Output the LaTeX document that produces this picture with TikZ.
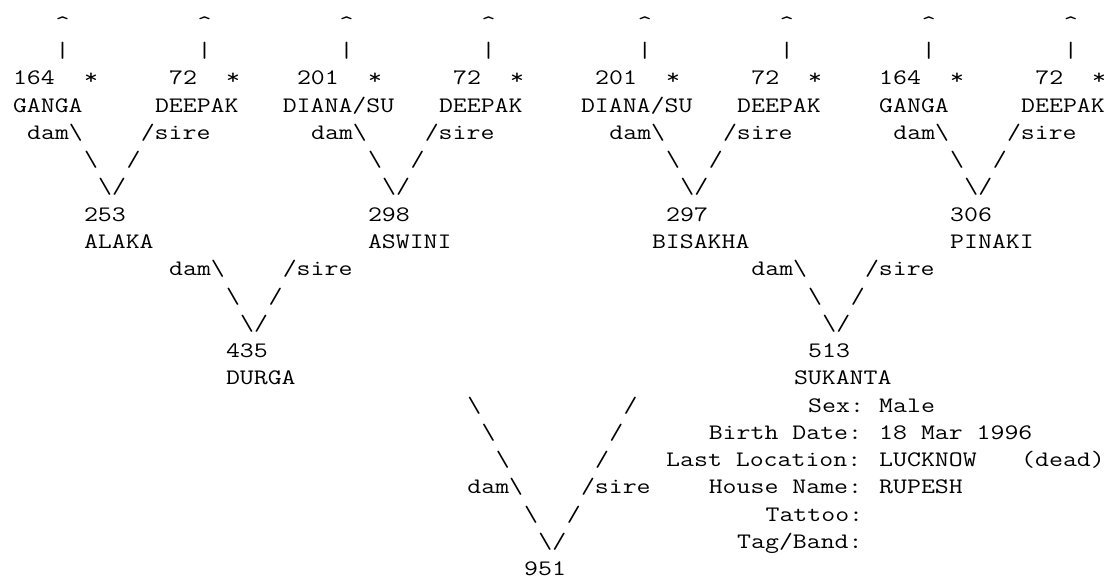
\documentclass[tikz,border=0pt]{standalone}
\usepackage{fontspec}
\setmonofont{Latin Modern Mono}[FakeStretch=1.224]
\newcommand\cw{14.2}
\newcommand\cx{-1.2}
\newcommand\bsl{\textbackslash}
\newcommand\crt{\textasciicircum}
\newcommand\gtok[4]{\node[tok] (#1) at ({\cx+#2*\cw},{-(30.5+(#3-1)*27.25)}) {#4};}
\tikzset{tok/.style={anchor=base west,inner sep=0pt,outer sep=0pt,text=black,
  font=\ttfamily\fontsize{22.1}{26}\selectfont}}
\begin{document}
\begin{tikzpicture}[x=1pt,y=1pt]
\fill[white] (0,0) rectangle (1113,-585);
\useasboundingbox (0,0) rectangle (1113,-585);
% row 1: arrows up
\gtok{u1}{4}{1}{\crt}\gtok{u2}{14}{1}{\crt}\gtok{u3}{24}{1}{\crt}\gtok{u4}{34}{1}{\crt}
\gtok{u5}{45}{1}{\crt}\gtok{u6}{55}{1}{\crt}\gtok{u7}{65}{1}{\crt}\gtok{u8}{75}{1}{\crt}
% row 2
\gtok{v1}{4}{2}{|}\gtok{v2}{14}{2}{|}\gtok{v3}{24}{2}{|}\gtok{v4}{34}{2}{|}
\gtok{v5}{45}{2}{|}\gtok{v6}{55}{2}{|}\gtok{v7}{65}{2}{|}\gtok{v8}{75}{2}{|}
% row 3: numbers
\gtok{n1}{1}{3}{164}\gtok{s1}{6}{3}{*}\gtok{n2}{12}{3}{72}\gtok{s2}{16}{3}{*}
\gtok{n3}{21}{3}{201}\gtok{s3}{26}{3}{*}\gtok{n4}{32}{3}{72}\gtok{s4}{36}{3}{*}
\gtok{n5}{42}{3}{201}\gtok{s5}{47}{3}{*}\gtok{n6}{53}{3}{72}\gtok{s6}{57}{3}{*}
\gtok{n7}{62}{3}{164}\gtok{s7}{67}{3}{*}\gtok{n8}{73}{3}{72}\gtok{s8}{77}{3}{*}
% row 4: names
\gtok{m1}{1}{4}{GANGA}\gtok{m2}{11}{4}{DEEPAK}\gtok{m3}{20}{4}{DIANA/SU}\gtok{m4}{31}{4}{DEEPAK}
\gtok{m5}{41}{4}{DIANA/SU}\gtok{m6}{52}{4}{DEEPAK}\gtok{m7}{62}{4}{GANGA}\gtok{m8}{72}{4}{DEEPAK}
% row 5
\gtok{d1}{2}{5}{dam\bsl}\gtok{e1}{10}{5}{/sire}\gtok{d2}{22}{5}{dam\bsl}\gtok{e2}{30}{5}{/sire}
\gtok{d3}{43}{5}{dam\bsl}\gtok{e3}{51}{5}{/sire}\gtok{d4}{63}{5}{dam\bsl}\gtok{e4}{71}{5}{/sire}
% row 6
\gtok{b1}{6}{6}{\bsl}\gtok{f1}{9}{6}{/}\gtok{b2}{26}{6}{\bsl}\gtok{f2}{29}{6}{/}
\gtok{b3}{47}{6}{\bsl}\gtok{f3}{50}{6}{/}\gtok{b4}{67}{6}{\bsl}\gtok{f4}{70}{6}{/}
% row 7
\gtok{j1}{7}{7}{\bsl/}\gtok{j2}{27}{7}{\bsl/}\gtok{j3}{48}{7}{\bsl/}\gtok{j4}{68}{7}{\bsl/}
% row 8, 9
\gtok{p1}{6}{8}{253}\gtok{p2}{26}{8}{298}\gtok{p3}{47}{8}{297}\gtok{p4}{67}{8}{306}
\gtok{q1}{6}{9}{ALAKA}\gtok{q2}{26}{9}{ASWINI}\gtok{q3}{46}{9}{BISAKHA}\gtok{q4}{67}{9}{PINAKI}
% row 10-14
\gtok{dd1}{12}{10}{dam\bsl}\gtok{ee1}{20}{10}{/sire}\gtok{dd2}{53}{10}{dam\bsl}\gtok{ee2}{61}{10}{/sire}
\gtok{bb1}{16}{11}{\bsl}\gtok{ff1}{19}{11}{/}\gtok{bb2}{57}{11}{\bsl}\gtok{ff2}{60}{11}{/}
\gtok{jj1}{17}{12}{\bsl/}\gtok{jj2}{58}{12}{\bsl/}
\gtok{pp1}{16}{13}{435}\gtok{pp2}{57}{13}{513}
\gtok{qq1}{16}{14}{DURGA}\gtok{qq2}{56}{14}{SUKANTA}
% rows 15-21
\gtok{x1}{33}{15}{\bsl}\gtok{y1}{44}{15}{/}\gtok{lsex}{57}{15}{Sex:}\gtok{vsex}{62}{15}{Male}
\gtok{x2}{34}{16}{\bsl}\gtok{y2}{43}{16}{/}\gtok{lbirth}{50}{16}{Birth Date:}\gtok{vbirth}{62}{16}{18 Mar 1996}
\gtok{x3}{35}{17}{\bsl}\gtok{y3}{42}{17}{/}\gtok{lloc}{47}{17}{Last Location:}\gtok{vloc}{62}{17}{LUCKNOW}\gtok{vdead}{72}{17}{(dead)}
\gtok{ddd}{33}{18}{dam\bsl}\gtok{eee}{41}{18}{/sire}\gtok{lhouse}{50}{18}{House Name:}\gtok{vhouse}{62}{18}{RUPESH}
\gtok{x4}{37}{19}{\bsl}\gtok{y4}{40}{19}{/}\gtok{ltat}{54}{19}{Tattoo:}
\gtok{jjj}{38}{20}{\bsl/}\gtok{ltag}{52}{20}{Tag/Band:}
\gtok{root}{37}{21}{951}
\end{tikzpicture}
\end{document}
